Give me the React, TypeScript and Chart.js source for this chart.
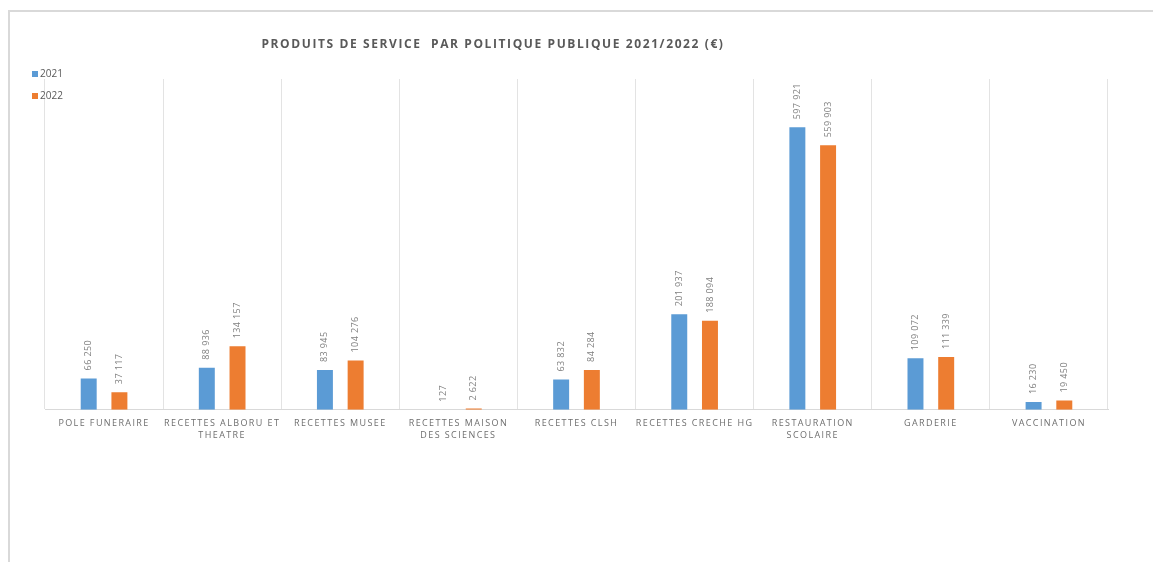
import React, { useEffect, useRef } from "react";
import { Chart, registerables } from "chart.js";

Chart.register(...registerables);

const categories: string[][] = [
  ["POLE FUNERAIRE"],
  ["RECETTES ALBORU ET", "THEATRE"],
  ["RECETTES MUSEE"],
  ["RECETTES MAISON", "DES SCIENCES"],
  ["RECETTES CLSH"],
  ["RECETTES CRECHE HG"],
  ["RESTAURATION", "SCOLAIRE"],
  ["GARDERIE"],
  ["VACCINATION"],
];

const values2021: number[] = [66250, 88936, 83945, 127, 63832, 201937, 597921, 109072, 16230];
const values2022: number[] = [37117, 134157, 104276, 2622, 84284, 188094, 559903, 111339, 19450];

const seriesNames: string[] = ["2021", "2022"];
const seriesColors: string[] = ["#5B9BD5", "#ED7D31"];

const titleText = "PRODUITS DE SERVICE  PAR POLITIQUE PUBLIQUE 2021/2022 (€)";

// French-style grouping with a plain space: 597921 -> "597 921"
const formatValue = (v: number): string =>
  String(Math.round(v)).replace(/\B(?=(\d{3})+(?!\d))/g, " ");

// Spaced lettering for the axis text, reset after drawing
const spacingPlugin = {
  id: "spacing",
  beforeDraw(chart: any) {
    chart.ctx.letterSpacing = "1.4px";
  },
  beforeDatasetsDraw(chart: any) {
    chart.ctx.letterSpacing = "0px";
  },
};

// Rotated value labels above each bar
const valueLabelsPlugin = {
  id: "valueLabels",
  afterDatasetsDraw(chart: any) {
    const ctx = chart.ctx;
    chart.data.datasets.forEach((ds: any, di: number) => {
      const meta = chart.getDatasetMeta(di);
      meta.data.forEach((el: any, i: number) => {
        const { x, y } = el.getProps(["x", "y"], true);
        ctx.save();
        ctx.letterSpacing = "0.4px";
        ctx.font = "9px 'Open Sans'";
        ctx.fillStyle = "#7f7f7f";
        ctx.translate(x, y - 8);
        ctx.rotate(-Math.PI / 2);
        ctx.textAlign = "left";
        ctx.textBaseline = "middle";
        ctx.fillText(formatValue(ds.data[i]), 0, 0);
        ctx.restore();
      });
    });
  },
};

// Title and a stacked legend in the upper-left corner
const headerPlugin = {
  id: "header",
  afterDraw(chart: any) {
    const ctx = chart.ctx;
    const area = chart.chartArea;
    ctx.save();
    ctx.letterSpacing = "1.6px";
    ctx.font = "bold 12px 'Open Sans'";
    ctx.fillStyle = "#595959";
    ctx.textAlign = "center";
    ctx.textBaseline = "middle";
    ctx.fillText(titleText, area.left + 448, area.top - 34);

    ctx.letterSpacing = "0px";
    ctx.font = "10px 'Open Sans'";
    ctx.textAlign = "left";
    chart.data.datasets.forEach((ds: any, i: number) => {
      const cy = area.top + i * 22;
      ctx.fillStyle = ds.backgroundColor;
      ctx.fillRect(area.left - 13, cy - 8, 6, 6);
      ctx.fillStyle = "#595959";
      ctx.fillText(ds.label, area.left - 5, cy - 5);
    });
    ctx.restore();
  },
};

export default function App() {
  const canvasRef = useRef<HTMLCanvasElement | null>(null);

  useEffect(() => {
    if (!canvasRef.current) return;
    const chart = new Chart(canvasRef.current, {
      type: "bar",
      data: {
        labels: categories,
        datasets: [
          {
            label: seriesNames[0],
            data: values2021,
            backgroundColor: seriesColors[0],
            categoryPercentage: 0.52,
            barPercentage: 0.52,
          },
          {
            label: seriesNames[1],
            data: values2022,
            backgroundColor: seriesColors[1],
            categoryPercentage: 0.52,
            barPercentage: 0.52,
          },
        ],
      },
      options: {
        animation: false,
        responsive: false,
        maintainAspectRatio: false,
        layout: { padding: { left: 35, right: 52, top: 67, bottom: 112 } },
        plugins: {
          legend: { display: false },
          title: { display: false },
          tooltip: { enabled: false },
        },
        scales: {
          x: {
            grid: {
              display: true,
              offset: true,
              color: "#e3e3e3",
              drawTicks: false,
            },
            border: { display: true, color: "#d9d9d9" },
            ticks: {
              padding: 8,
              maxRotation: 0,
              minRotation: 0,
              autoSkip: false,
              color: "#6e6e6e",
              font: { family: "'Open Sans'", size: 9, lineHeight: 1.35 },
            },
          },
          y: {
            display: false,
            min: 0,
            max: 700000,
          },
        },
      },
      plugins: [spacingPlugin, valueLabelsPlugin, headerPlugin],
    });
    return () => chart.destroy();
  }, []);

  return (
    <div
      style={{
        position: "relative",
        marginTop: 2,
        width: 1150,
        height: 550,
        borderTop: "2px solid #d9d9d9",
        borderLeft: "2px solid #d9d9d9",
        background: "#ffffff",
      }}
    >
      <canvas ref={canvasRef} width={1150} height={550} style={{ display: "block" }} />
    </div>
  );
}
